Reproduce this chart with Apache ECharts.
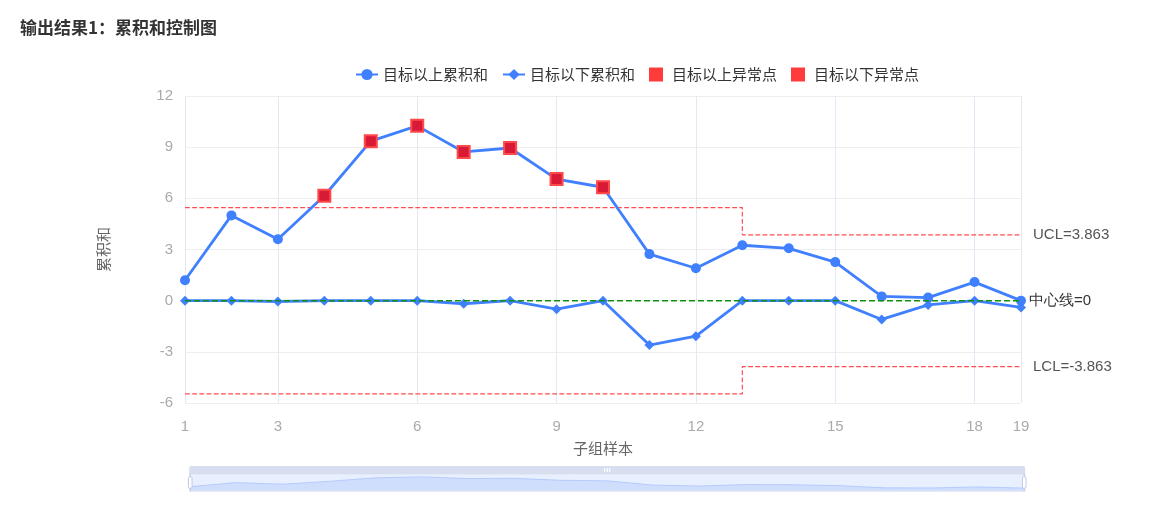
<!DOCTYPE html>
<html>
<head>
<meta charset="utf-8">
<script src="https://cdn.jsdelivr.net/npm/echarts@6/dist/echarts.min.js"></script>
<style>
html,body{margin:0;padding:0;background:#fff;}
#chart{width:1162px;height:511px;}
</style>
</head>
<body>
<div id="chart"></div>
<script>
// ---- data ----
const samples = [1,2,3,4,5,6,7,8,9,10,11,12,13,14,15,16,17,18,19];
const upperCusum = [1.2,5.0,3.6,6.15,9.35,10.25,8.72,8.95,7.13,6.65,2.73,1.9,3.25,3.07,2.26,0.25,0.18,1.09,0];
const lowerCusum = [0,0,-0.05,0,0,0,-0.18,0,-0.5,0,-2.6,-2.08,0,0,0,-1.1,-0.25,0,-0.4];
const upperAnomalyIdx = [3,4,5,6,7,8,9]; // samples 4..10
const lowerAnomalyIdx = [];
const uclSteps = [[1,5.46],[13,5.46],[13,3.863],[19,3.863]];
const lclSteps = [[1,-5.46],[13,-5.46],[13,-3.863],[19,-3.863]];
const centerLine = [[1,0],[19,0]];
const uclLabel = 'UCL=3.863';
const lclLabel = 'LCL=-3.863';
const centerLabel = '中心线=0';
const yTicks = {min:-6, max:12, interval:3};

const pairs = (xs, ys) => xs.map((x,i)=>[x, ys[i]]);
const upperPts = pairs(samples, upperCusum);
const lowerPts = pairs(samples, lowerCusum);
const upperAnom = upperAnomalyIdx.map(i=>[samples[i], upperCusum[i]]);
const lowerAnom = lowerAnomalyIdx.map(i=>[samples[i], lowerCusum[i]]);

const blue = '#4080ff';
const font = '"Noto Sans CJK SC", sans-serif';
const anomStyle = {color:'#d81a36', borderColor:'#ff4a4a', borderWidth:2, opacity:1};
const squareIcon = 'path://M0,0H10V10H0Z';

const chart = echarts.init(document.getElementById('chart'));
chart.setOption({
  animation:false,
  title:{text:'输出结果1：累积和控制图', left:15, top:14,
    textStyle:{fontSize:17, fontWeight:'bold', color:'#333', fontFamily:font}},
  legend:{
    left:350, top:62, itemGap:14, itemWidth:22,
    textStyle:{fontSize:15, color:'#333', fontFamily:font},
    data:[
      {name:'目标以上累积和'},
      {name:'目标以下累积和'},
      {name:'目标以上异常点', icon:squareIcon, itemStyle:{color:'#ff3b3b', borderWidth:0}},
      {name:'目标以下异常点', icon:squareIcon, itemStyle:{color:'#ff3b3b', borderWidth:0}}
    ]
  },
  grid:{left:185, right:141, top:96, bottom:108},
  xAxis:{
    type:'value', min:1, max:19,
    name:'子组样本', nameLocation:'middle', nameGap:38,
    nameTextStyle:{fontSize:15, color:'#666', fontFamily:font},
    axisLine:{show:false}, axisTick:{show:false},
    axisLabel:{fontSize:15, color:'#aaa', margin:16},
    splitLine:{show:true, lineStyle:{color:'#e3e9f4'}}
  },
  yAxis:{
    type:'value', min:yTicks.min, max:yTicks.max, interval:yTicks.interval,
    name:'累积和', nameLocation:'middle', nameGap:74,
    nameTextStyle:{fontSize:15, color:'#666', fontFamily:font},
    axisLine:{show:false}, axisTick:{show:false},
    axisLabel:{fontSize:15, color:'#aaa', margin:12},
    splitLine:{lineStyle:{color:'#eeeeee'}}
  },
  dataZoom:[{
    type:'slider', xAxisIndex:0, left:186, right:140, top:466, height:18,
    moveHandleSize:8, showDetail:false,
    moveHandleStyle:{color:'#d6deef', opacity:1},
    fillerColor:'rgba(205,220,255,0.45)',
    selectedDataBackground:{
      lineStyle:{color:'#8fb0f7', width:0.8},
      areaStyle:{color:'#b8cdf8', opacity:0.6}
    }
  }],
  series:[
    {
      name:'目标以上累积和', type:'line', data:upperPts,
      symbol:'circle', symbolSize:10, showSymbol:true,
      itemStyle:{color:blue}, lineStyle:{color:blue, width:2.8}, z:3
    },
    {
      name:'目标以下累积和', type:'line', data:lowerPts,
      symbol:'diamond', symbolSize:10, showSymbol:true,
      itemStyle:{color:blue}, lineStyle:{color:blue, width:2.8}, z:3
    },
    {
      name:'UCL', type:'line', data:uclSteps, symbol:'none', silent:true,
      lineStyle:{color:'#ff4d4f', width:1.2, type:'dashed'},
      endLabel:{show:true, formatter:()=>uclLabel, distance:12, fontSize:15, color:'#555'},
      z:1
    },
    {
      name:'LCL', type:'line', data:lclSteps, symbol:'none', silent:true,
      lineStyle:{color:'#ff4d4f', width:1.2, type:'dashed'},
      endLabel:{show:true, formatter:()=>lclLabel, distance:12, fontSize:15, color:'#555'},
      z:1
    },
    {
      name:'中心线', type:'line', data:centerLine, symbol:'none', silent:true,
      lineStyle:{color:'#109010', width:1.5, type:'dashed'},
      endLabel:{show:true, formatter:()=>centerLabel, distance:8, fontSize:15, color:'#333'},
      z:4
    },
    {
      name:'目标以上异常点', type:'scatter', data:upperAnom,
      symbol:'rect', symbolSize:12, itemStyle:anomStyle, z:5
    },
    {
      name:'目标以下异常点', type:'scatter', data:lowerAnom,
      symbol:'rect', symbolSize:12, itemStyle:anomStyle, z:5
    }
  ]
});
</script>
</body>
</html>
